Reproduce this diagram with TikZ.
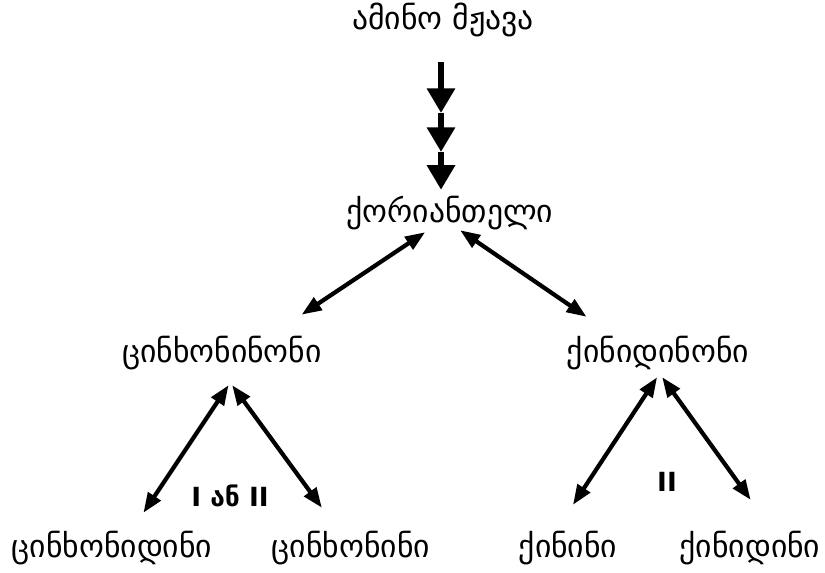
\documentclass[tikz,border=0pt]{standalone}
\usepackage{fontspec}
\setmainfont{DejaVu Sans}
\usepackage{tikz}
\usetikzlibrary{arrows.meta}

\begin{document}
\begin{tikzpicture}[x=0.03cm,y=0.03cm,
  path arrow/.style={line width=5.5pt,-{Triangle[length=21pt,width=23pt]}},
  both arrow/.style={line width=3.6pt,{Triangle[length=17pt,width=12.5pt]}-{Triangle[length=17pt,width=12.5pt]}},
  step label/.style={font=\fontsize{22.5}{26}\selectfont\bfseries}]
\tikzstyle{every node}+=[inner sep=0pt,font=\fontsize{27}{32}\selectfont,text height=18pt,text depth=5pt]
\useasboundingbox (0,0) rectangle (825,-573);
\node (amino) at (443,-22) {ამინო მჟავა};
\node (cor) at (450,-215) {ქორიანთელი};
\node (cinone) at (222,-355) {ცინხონინონი};
\node (qdone) at (658,-355) {ქინიდინონი};
\node (cidine) at (112,-550) {ცინხონიდინი};
\node (cine) at (351,-550) {ცინხონინი};
\node (quinine) at (568,-550) {ქინინი};
\node (qdine) at (750,-550) {ქინიდინი};
\node[step label] (lab1) at (230,-499) {I ან II};
\node[step label] (lab2) at (667,-484) {II};
\coordinate (h1) at (441,-113);
\coordinate (h2) at (441,-152);
\draw [path arrow,shorten <=22.6pt] (amino.south -| h1) -- (h1);
\draw [path arrow] (h1) -- (h2);
\draw [path arrow,shorten >=9.8pt] (h2) -- (h2 |- cor.north);
\draw [both arrow,shorten <=5.4pt,shorten >=40.9pt] (cor.-145.6) -- (cinone.19.5);
\draw [both arrow,shorten <=2.3pt,shorten >=37pt] (cor.-60) -- (qdone.159);
\draw [both arrow,shorten <=16.9pt,shorten >=24.1pt] (cinone.-38.5) -- (cidine.41.2);
\draw [both arrow,shorten <=17.5pt,shorten >=30.2pt] (cinone.-98.8) -- (cine.121);
\draw [both arrow,shorten <=8.7pt,shorten >=32.2pt] (qdone.-71.2) -- (quinine.139.3);
\draw [both arrow,shorten <=8.9pt,shorten >=38.3pt] (qdone.-98.8) -- (qdine.27.3);
\end{tikzpicture}
\end{document}
